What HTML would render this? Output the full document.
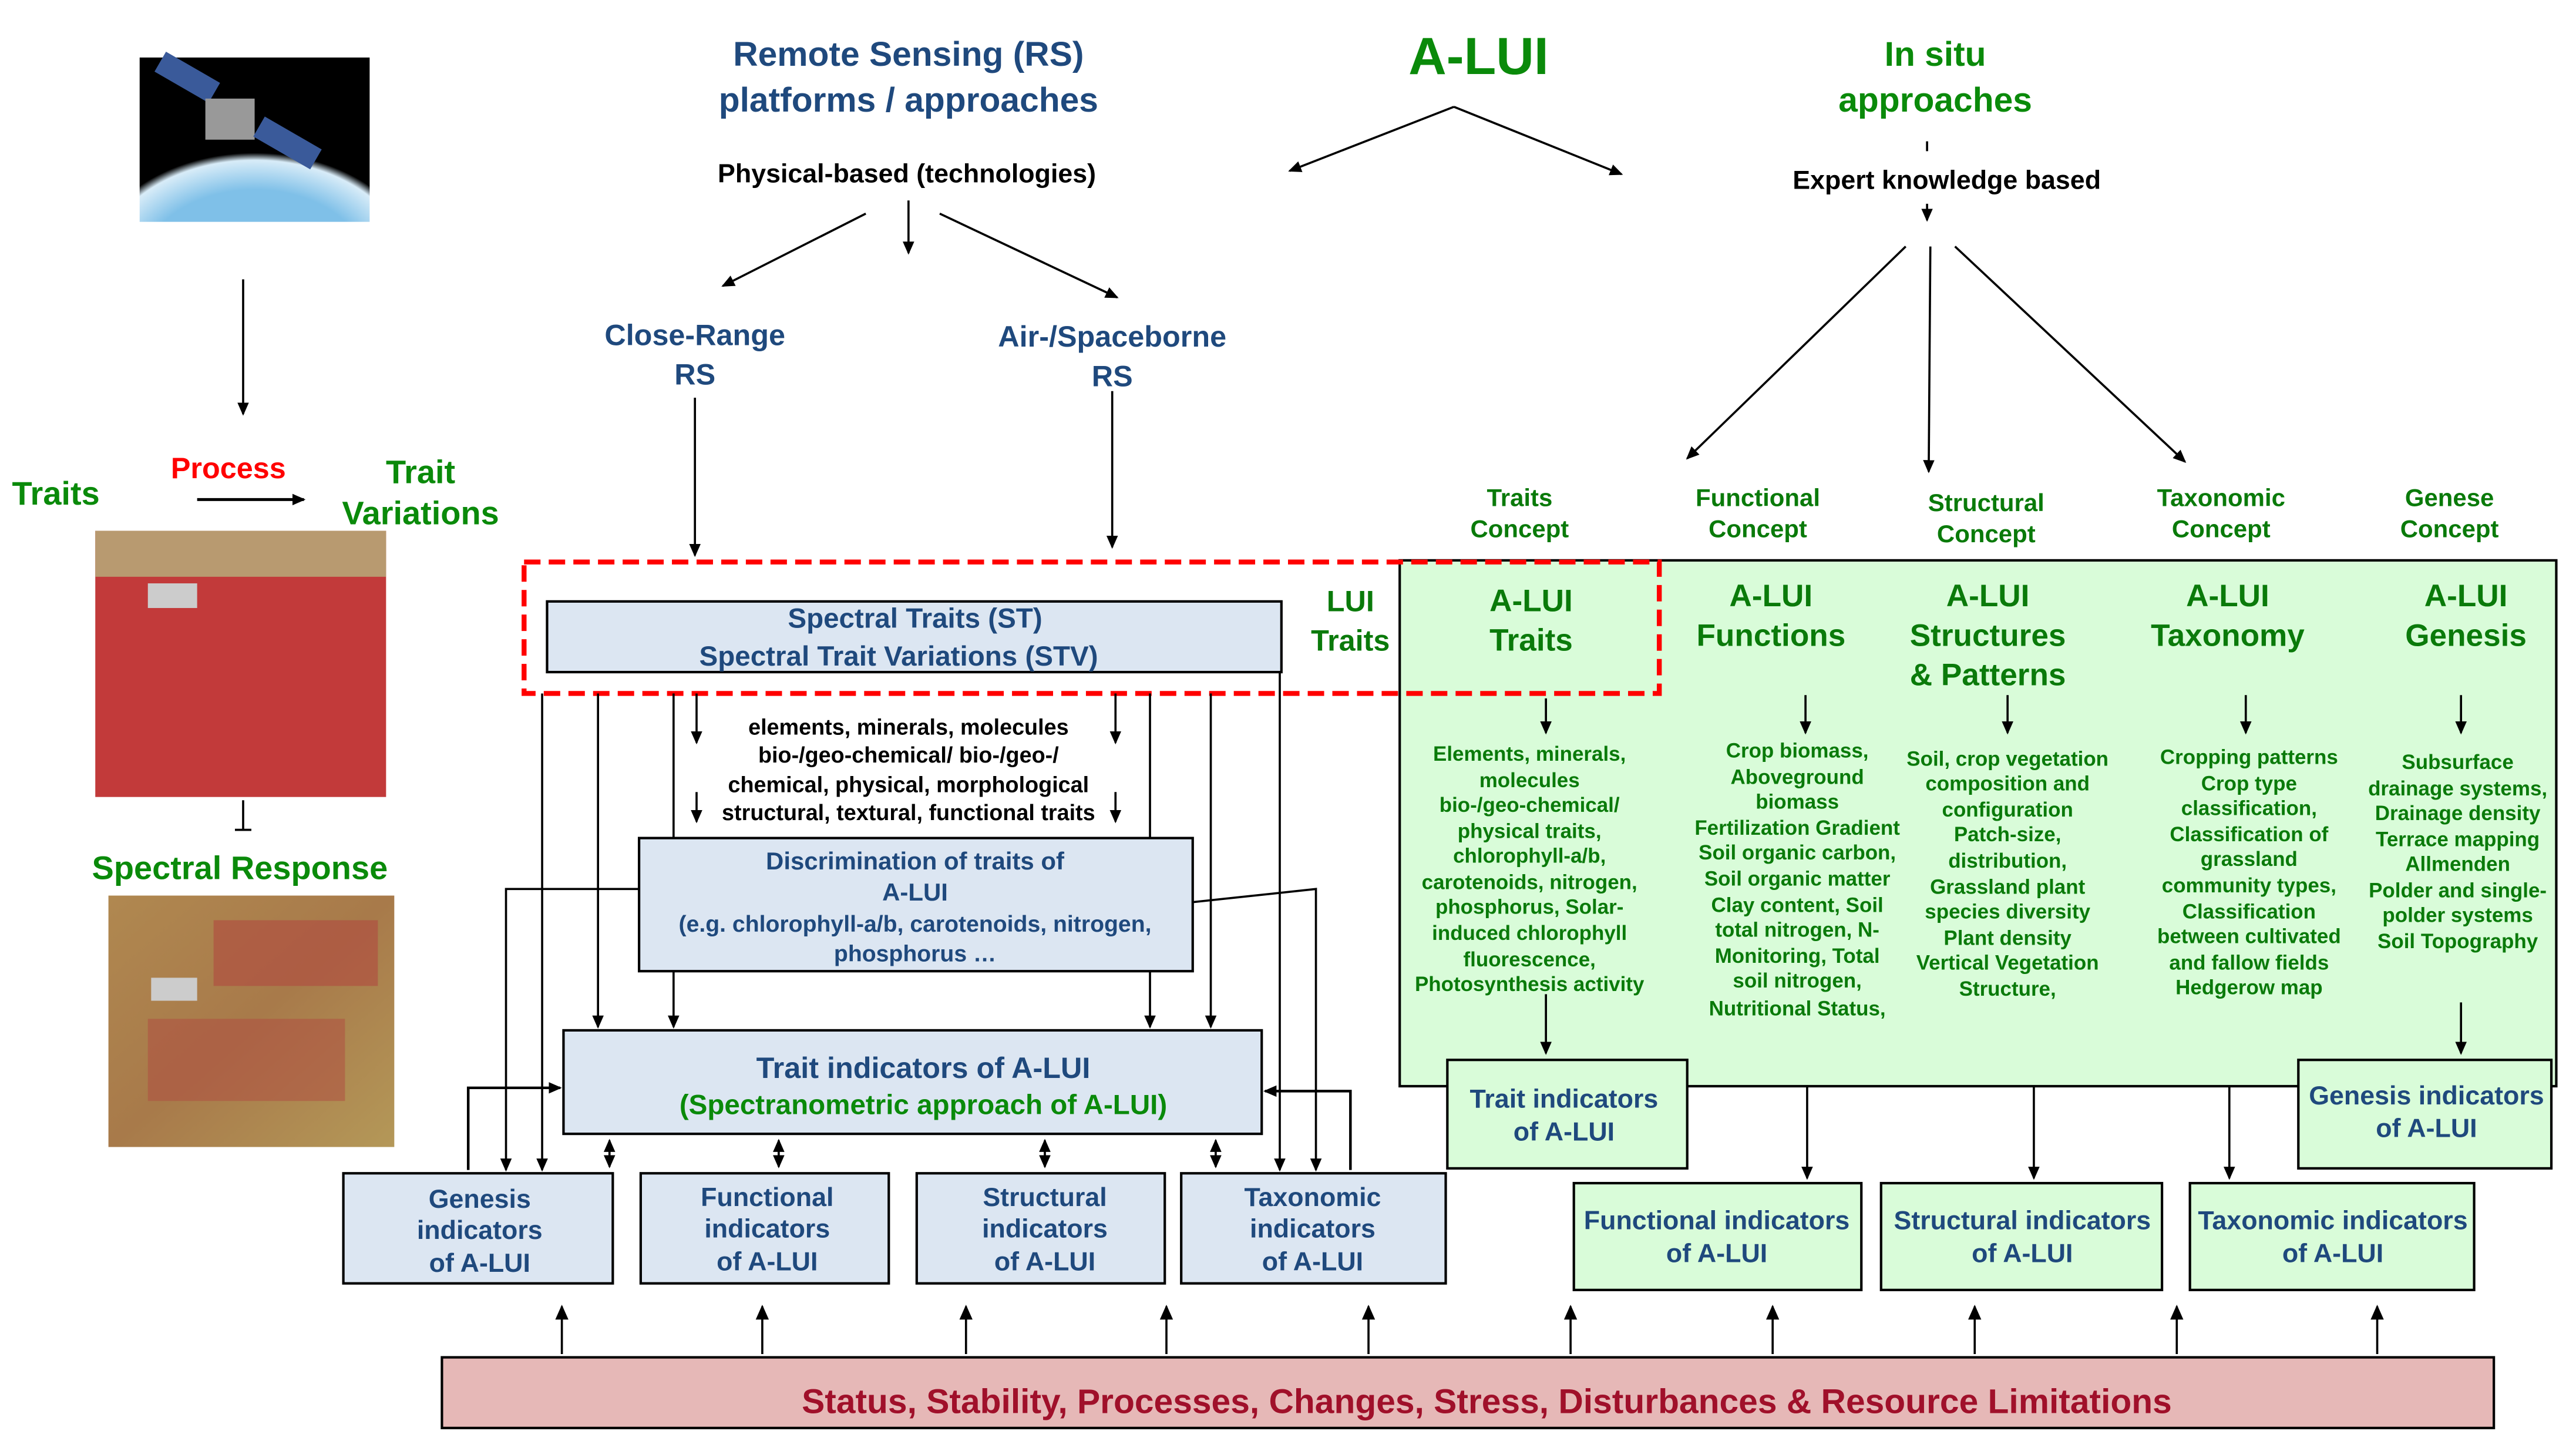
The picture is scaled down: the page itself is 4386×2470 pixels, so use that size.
<!DOCTYPE html>
<html><head><meta charset="utf-8"><style>
html,body{margin:0;padding:0;background:#fff;}
svg{display:block;}
text{font-family:"Liberation Sans",Arial,sans-serif;font-weight:bold;}
</style></head><body>
<svg width="4386" height="2470" viewBox="0 0 1568 883" preserveAspectRatio="none" xmlns="http://www.w3.org/2000/svg">
<defs>
<marker id="a" markerWidth="8" markerHeight="8" refX="7" refY="4" orient="auto" markerUnits="userSpaceOnUse"><path d="M0,0.5 L8,4 L0,7.5 z" fill="#000"/></marker>
<marker id="b" markerWidth="8" markerHeight="8" refX="1" refY="4" orient="auto" markerUnits="userSpaceOnUse"><path d="M8,0.5 L0,4 L8,7.5 z" fill="#000"/></marker>
<radialGradient id="earth" cx="0.5" cy="1.3" r="0.9"><stop offset="0.55" stop-color="#7fc0e8"/><stop offset="0.75" stop-color="#d8ecf8"/><stop offset="0.8" stop-color="#000"/></radialGradient>
<linearGradient id="f2" x1="0" y1="0" x2="1" y2="1"><stop offset="0" stop-color="#b08850"/><stop offset="0.5" stop-color="#a87a4a"/><stop offset="1" stop-color="#b49858"/></linearGradient>
</defs>
<g stroke="#000" stroke-width="1.3" fill="none">
<rect x="85" y="35" width="140" height="100" fill="url(#earth)" stroke="none"/>
<rect x="95" y="40" width="38" height="14" fill="#3a5a9a" stroke="none" transform="rotate(30 114 47)"/>
<rect x="125" y="60" width="30" height="25" fill="#999" stroke="none"/>
<rect x="155" y="80" width="40" height="14" fill="#3a5a9a" stroke="none" transform="rotate(30 175 87)"/>
<rect x="58" y="323" width="177" height="162" fill="#c23a3a" stroke="none"/>
<rect x="58" y="323" width="177" height="28" fill="#b89a70" stroke="none"/>
<rect x="90" y="355" width="30" height="15" fill="#ccc" stroke="none"/>
<rect x="66" y="545" width="174" height="153" fill="url(#f2)" stroke="none"/>
<rect x="130" y="560" width="100" height="40" fill="#b04a40" stroke="none" opacity="0.6"/>
<rect x="90" y="620" width="120" height="50" fill="#b04a40" stroke="none" opacity="0.5"/>
<rect x="92" y="595" width="28" height="14" fill="#ccc" stroke="none"/>
<path d="M148,170 V252" marker-end="url(#a)"/>
<path d="M120,304 H185" marker-end="url(#a)" stroke-width="1.8"/>
<path d="M148,487 V505 M143,505 H153"/>
<path d="M885,65 L785,104" marker-end="url(#a)"/>
<path d="M885,65 L987,106" marker-end="url(#a)"/>
<path d="M527,130 L440,174" marker-end="url(#a)"/>
<path d="M553,122 V154" marker-end="url(#a)"/>
<path d="M572,130 L680,181" marker-end="url(#a)"/>
<path d="M423,242 V338" marker-end="url(#a)"/>
<path d="M677,238 V333" marker-end="url(#a)"/>
<path d="M1173,86 V92"/>
<path d="M1173,124 V134" marker-end="url(#a)"/>
<path d="M1160,150 L1027,279" marker-end="url(#a)"/>
<path d="M1175,150 L1174,287" marker-end="url(#a)"/>
<path d="M1190,150 L1330,281" marker-end="url(#a)"/>
<rect x="852" y="341" width="704" height="320" fill="#d9fcd9" stroke="#000" stroke-width="1.5"/>
<rect x="319" y="342" width="691" height="80" stroke="#f00" stroke-width="3" stroke-dasharray="10,5"/>
<rect x="333" y="366" width="447" height="43" fill="#dce6f2" stroke-width="1.5"/>
<path d="M941,425 V446" marker-end="url(#a)"/>
<path d="M1099,423 V446" marker-end="url(#a)"/>
<path d="M1222,423 V446" marker-end="url(#a)"/>
<path d="M1367,423 V446" marker-end="url(#a)"/>
<path d="M1498,423 V446" marker-end="url(#a)"/>
<path d="M941,605 V641" marker-end="url(#a)"/>
<path d="M1498,610 V641" marker-end="url(#a)"/>
<path d="M1100,661 V717" marker-end="url(#a)"/>
<path d="M1238,661 V717" marker-end="url(#a)"/>
<path d="M1357,661 V717" marker-end="url(#a)"/>
<rect x="881" y="645" width="146" height="66" fill="#d9fcd9" stroke-width="1.5"/>
<rect x="1399" y="645" width="154" height="66" fill="#d9fcd9" stroke-width="1.5"/>
<rect x="958" y="720" width="175" height="65" fill="#d9fcd9" stroke-width="1.5"/>
<rect x="1145" y="720" width="171" height="65" fill="#d9fcd9" stroke-width="1.5"/>
<rect x="1333" y="720" width="173" height="65" fill="#d9fcd9" stroke-width="1.5"/>
<rect x="389" y="510" width="337" height="81" fill="#dce6f2" stroke-width="1.5"/>
<rect x="343" y="627" width="425" height="63" fill="#dce6f2" stroke-width="1.5"/>
<rect x="209" y="714" width="164" height="67" fill="#dce6f2" stroke-width="1.5"/>
<rect x="390" y="714" width="151" height="67" fill="#dce6f2" stroke-width="1.5"/>
<rect x="558" y="714" width="151" height="67" fill="#dce6f2" stroke-width="1.5"/>
<rect x="719" y="714" width="161" height="67" fill="#dce6f2" stroke-width="1.5"/>
<path d="M330,422 V712" marker-end="url(#a)"/>
<path d="M364,422 V625" marker-end="url(#a)"/>
<path d="M410,422 V510"/>
<path d="M410,591 V625" marker-end="url(#a)"/>
<path d="M424,422 V452" marker-end="url(#a)"/>
<path d="M424,482 V500" marker-end="url(#a)"/>
<path d="M679,422 V452" marker-end="url(#a)"/>
<path d="M679,482 V500" marker-end="url(#a)"/>
<path d="M700,422 V510"/>
<path d="M700,591 V625" marker-end="url(#a)"/>
<path d="M737,422 V625" marker-end="url(#a)"/>
<path d="M779,409 V712" marker-end="url(#a)"/>
<path d="M389,541 H308 V712" marker-end="url(#a)"/>
<path d="M726,549 L801,541 V712" marker-end="url(#a)"/>
<path d="M285,712 V662 H341" marker-end="url(#a)" stroke-width="1.6"/>
<path d="M822,712 V664 H770" marker-end="url(#a)" stroke-width="1.6"/>
<path d="M371,694 V710" marker-end="url(#a)" marker-start="url(#b)"/>
<path d="M474,694 V710" marker-end="url(#a)" marker-start="url(#b)"/>
<path d="M636,694 V710" marker-end="url(#a)" marker-start="url(#b)"/>
<path d="M740,694 V710" marker-end="url(#a)" marker-start="url(#b)"/>
<rect x="269" y="826" width="1249" height="43" fill="#e6b8b7" stroke-width="1.5"/>
<path d="M342,824 V795 M464,824 V795 M588,824 V795 M710,824 V795 M833,824 V795 M956,824 V795 M1079,824 V795 M1202,824 V795 M1325,824 V795 M1447,824 V795"/>
</g>
<g fill="#000"><path d="M338,803 L342,794 L346,803z M460,803 L464,794 L468,803z M584,803 L588,794 L592,803z M706,803 L710,794 L714,803z M829,803 L833,794 L837,803z M952,803 L956,794 L960,803z M1075,803 L1079,794 L1083,803z M1198,803 L1202,794 L1206,803z M1321,803 L1325,794 L1329,803z M1443,803 L1447,794 L1451,803z"/></g>

<g text-anchor="middle">
<g fill="#1f497d" font-size="21">
<text x="553" y="40">Remote Sensing (RS)</text>
<text x="553" y="68">platforms / approaches</text>
</g>
<text x="900" y="45" font-size="32" fill="#0a8a0a">A-LUI</text>
<g fill="#0a8a0a" font-size="21">
<text x="1178" y="40">In situ</text>
<text x="1178" y="68">approaches</text>
</g>
<text x="552" y="111" font-size="16">Physical-based (technologies)</text>
<text x="1185" y="115" font-size="16">Expert knowledge based</text>
<g fill="#1f497d" font-size="18">
<text x="423" y="210">Close-Range</text><text x="423" y="234">RS</text>
<text x="677" y="211">Air-/Spaceborne</text><text x="677" y="235">RS</text>
</g>
<g fill="#0a7a0a" font-size="15">
<text x="925" y="308">Traits</text><text x="925" y="327">Concept</text>
<text x="1070" y="308">Functional</text><text x="1070" y="327">Concept</text>
<text x="1209" y="311">Structural</text><text x="1209" y="330">Concept</text>
<text x="1352" y="308">Taxonomic</text><text x="1352" y="327">Concept</text>
<text x="1491" y="308">Genese</text><text x="1491" y="327">Concept</text>
</g>
<text x="34" y="307" font-size="20" fill="#0a8a0a">Traits</text>
<text x="139" y="291" font-size="18" fill="#f00">Process</text>
<text x="256" y="294" font-size="20" fill="#0a8a0a">Trait</text>
<text x="256" y="319" font-size="20" fill="#0a8a0a">Variations</text>
<text x="146" y="535" font-size="20" fill="#0a8a0a">Spectral Response</text>
<g fill="#1f497d" font-size="17">
<text x="557" y="382">Spectral Traits (ST)</text>
<text x="547" y="405">Spectral Trait Variations (STV)</text>
</g>
<g fill="#0a7a0a" font-size="18">
<text x="822" y="372">LUI</text><text x="822" y="396">Traits</text>
</g>
<g fill="#0a7a0a" font-size="19">
<text x="932" y="372">A-LUI</text><text x="932" y="396">Traits</text>
<text x="1078" y="369">A-LUI</text><text x="1078" y="393">Functions</text>
<text x="1210" y="369">A-LUI</text><text x="1210" y="393">Structures</text><text x="1210" y="417">&amp; Patterns</text>
<text x="1356" y="369">A-LUI</text><text x="1356" y="393">Taxonomy</text>
<text x="1501" y="369">A-LUI</text><text x="1501" y="393">Genesis</text>
</g>
<g fill="#0a7a0a" font-size="12.5">
<text x="931" y="463">Elements, minerals,</text><text x="931" y="479">molecules</text><text x="931" y="494">bio-/geo-chemical/</text><text x="931" y="510">physical traits,</text><text x="931" y="525">chlorophyll-a/b,</text><text x="931" y="541">carotenoids, nitrogen,</text><text x="931" y="556">phosphorus, Solar-</text><text x="931" y="572">induced chlorophyll</text><text x="931" y="588">fluorescence,</text><text x="931" y="603">Photosynthesis activity</text>
<text x="1094" y="461">Crop biomass,</text><text x="1094" y="477">Aboveground</text><text x="1094" y="492">biomass</text><text x="1094" y="508">Fertilization Gradient</text><text x="1094" y="523">Soil organic carbon,</text><text x="1094" y="539">Soil organic matter</text><text x="1094" y="555">Clay content, Soil</text><text x="1094" y="570">total nitrogen, N-</text><text x="1094" y="586">Monitoring, Total</text><text x="1094" y="601">soil nitrogen,</text><text x="1094" y="618">Nutritional Status,</text>
<text x="1222" y="466">Soil, crop vegetation</text><text x="1222" y="481">composition and</text><text x="1222" y="497">configuration</text><text x="1222" y="512">Patch-size,</text><text x="1222" y="528">distribution,</text><text x="1222" y="544">Grassland plant</text><text x="1222" y="559">species diversity</text><text x="1222" y="575">Plant density</text><text x="1222" y="590">Vertical Vegetation</text><text x="1222" y="606">Structure,</text>
<text x="1369" y="465">Cropping patterns</text><text x="1369" y="481">Crop type</text><text x="1369" y="496">classification,</text><text x="1369" y="512">Classification of</text><text x="1369" y="527">grassland</text><text x="1369" y="543">community types,</text><text x="1369" y="559">Classification</text><text x="1369" y="574">between cultivated</text><text x="1369" y="590">and fallow fields</text><text x="1369" y="605">Hedgerow map</text>
<text x="1496" y="468">Subsurface</text><text x="1496" y="484">drainage systems,</text><text x="1496" y="499">Drainage density</text><text x="1496" y="515">Terrace mapping</text><text x="1496" y="530">Allmenden</text><text x="1496" y="546">Polder and single-</text><text x="1496" y="561">polder systems</text><text x="1496" y="577">Soil Topography</text>
</g>
<g fill="#1f497d" font-size="16">
<text x="952" y="674">Trait indicators</text><text x="952" y="694">of A-LUI</text>
<text x="1477" y="672">Genesis indicators</text><text x="1477" y="692">of A-LUI</text>
<text x="1045" y="748">Functional indicators</text><text x="1045" y="768">of A-LUI</text>
<text x="1231" y="748">Structural indicators</text><text x="1231" y="768">of A-LUI</text>
<text x="1420" y="748">Taxonomic indicators</text><text x="1420" y="768">of A-LUI</text>
<text x="292" y="735">Genesis</text><text x="292" y="754">indicators</text><text x="292" y="774">of A-LUI</text>
<text x="467" y="734">Functional</text><text x="467" y="753">indicators</text><text x="467" y="773">of A-LUI</text>
<text x="636" y="734">Structural</text><text x="636" y="753">indicators</text><text x="636" y="773">of A-LUI</text>
<text x="799" y="734">Taxonomic</text><text x="799" y="753">indicators</text><text x="799" y="773">of A-LUI</text>
</g>
<g font-size="13.5">
<text x="553" y="447">elements, minerals, molecules</text>
<text x="553" y="464">bio-/geo-chemical/ bio-/geo-/</text>
<text x="553" y="482">chemical, physical, morphological</text>
<text x="553" y="499">structural, textural, functional traits</text>
</g>
<g fill="#1f497d">
<text x="557" y="529" font-size="15">Discrimination of traits of</text>
<text x="557" y="548" font-size="15">A-LUI</text>
<text x="557" y="567" font-size="14">(e.g. chlorophyll-a/b, carotenoids, nitrogen,</text>
<text x="557" y="585" font-size="14">phosphorus …</text>
<text x="562" y="656" font-size="18">Trait indicators of A-LUI</text>
</g>
<text x="562" y="678" font-size="17" fill="#0a8a0a">(Spectranometric approach of A-LUI)</text>
<text x="905" y="860" font-size="21" fill="#a0102a">Status, Stability, Processes, Changes, Stress, Disturbances &amp; Resource Limitations</text>
</g>
</svg>
</body></html>
